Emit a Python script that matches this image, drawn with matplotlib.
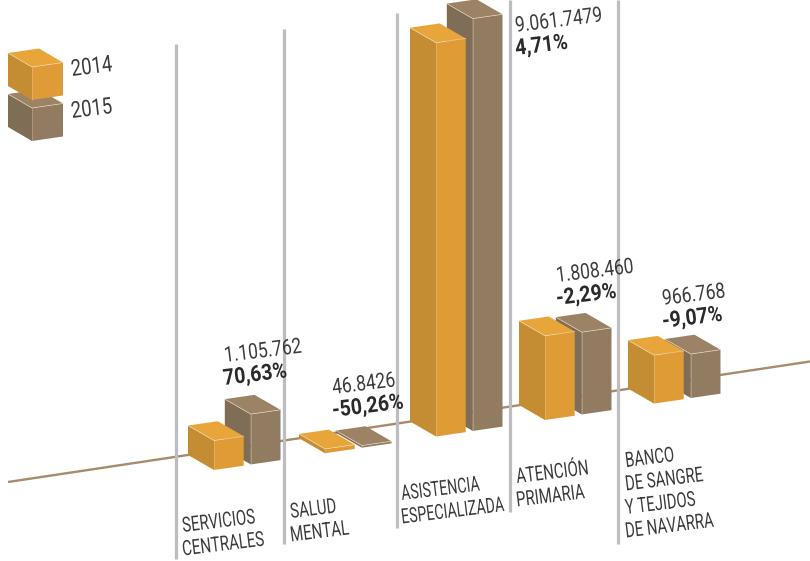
import matplotlib
matplotlib.use("Agg")
import matplotlib.pyplot as plt
import matplotlib.patheffects as pe
from matplotlib.transforms import Affine2D

categorias = [["SERVICIOS", "CENTRALES"], ["SALUD", "MENTAL"], ["ASISTENCIA", "ESPECIALIZADA"],
              ["ATENCIÓN", "PRIMARIA"], ["BANCO", "DE SANGRE", "Y TEJIDOS", "DE NAVARRA"]]
valores_2014 = [647900, 94180, 8654000, 1850900, 1063200]
valores_2015 = [1105762, 46842.6, 9061747.9, 1808460, 966768]
textos_valor = ["1.105.762", "46.8426", "9.061.7479", "1.808.460", "966.768"]
textos_pct = ["70,63%", "-50,26%", "4,71%", "-2,29%", "-9,07%"]
anios = ["2014", "2015"]

# colores: arriba, frente, lado
naranja = ["#e8a539", "#df9c36", "#c58d33"]
marron = ["#9c8366", "#917c62", "#7f6d56"]
gris_texto = "#3c3c3e"

plt.rcParams["font.family"] = ["Roboto", "DejaVu Sans"]

fig = plt.figure(figsize=(8.1, 5.61), dpi=100)
ax = fig.add_axes([0, 0, 1, 1])
ax.set_xlim(0, 810)
ax.set_ylim(561, 0)
ax.axis("off")

px_por_euro = 45.5 / 1e6
pendiente = -0.151
giro = 7


class Estrecho(pe.AbstractPathEffect):
    # encoge el texto a lo largo de su direccion, no hay fuente condensada
    def __init__(self, x, y, factor):
        super().__init__()
        self.x, self.y = ax.transData.transform((x, y))
        self.factor = factor

    def draw_path(self, renderer, gc, tpath, affine, rgbFace=None):
        t = (Affine2D().translate(-self.x, -self.y).rotate_deg(-giro).scale(self.factor, 1)
             .rotate_deg(giro).translate(self.x, self.y))
        renderer.draw_path(gc, tpath, affine + t, rgbFace)


def texto(x, y, s, size, factor, color=gris_texto, weight="normal"):
    ax.text(x, y, s, fontsize=size, color=color, fontweight=weight, rotation=giro,
            rotation_mode="anchor", ha="left", va="baseline", zorder=5,
            path_effects=[Estrecho(x, y, factor)])


def caja(x, y, alto, colores, ancho=(29.7, -4.3), fondo=(-26, -15)):
    # (x, y) es la esquina delantera de abajo
    ax_, ay = ancho
    fx, fy = fondo
    t = y - alto
    ax.fill([x, x + ax_, x + ax_, x], [y, y + ay, t + ay, t], color=colores[1], lw=0)
    ax.fill([x, x + fx, x + fx, x], [y, y + fy, t + fy, t], color=colores[2], lw=0)
    ax.fill([x, x + ax_, x + ax_ + fx, x + fx], [t, t + ay, t + ay + fy, t + fy], color=colores[0], lw=0)
    claro = "#f3dfbf"
    ax.plot([x + fx, x, x + ax_], [t + fy, t, t + ay], color=claro, lw=0.5, alpha=0.8)
    ax.plot([x, x], [t, y], color=claro, lw=0.4, alpha=0.5)


# linea base
ax.plot([8, 810], [482, 361.5], color="#a68b6d", lw=1.7, solid_capstyle="butt", zorder=1)

# reglas verticales
reglas_x = [176, 284, 396.5, 509.5, 618]
reglas_arriba = [44, 29, 13, 0, 0]
reglas_abajo = [559, 544, 528, 512, 544]
ax.vlines(reglas_x, reglas_arriba, reglas_abajo, color="#bdbdc1", lw=2.3, zorder=2)

# barras
frente_x = [214, 325, 436, 545, 654]
for i in range(len(categorias)):
    x14 = frente_x[i]
    x15 = x14 + 36.8
    y14 = 470 + pendiente * (x14 - 214)
    y15 = 470 + pendiente * (x15 - 214)
    caja(x15, y15, valores_2015[i] * px_por_euro, marron)
    caja(x14, y14, valores_2014[i] * px_por_euro, naranja)

# textos de valor
valor_pos = [(225, 362), (333, 394), (516, 32), (557, 282), (663, 305)]
pct_pos = [(224, 385), (333, 417), (516, 55), (557, 305), (663, 328)]
for i in range(5):
    texto(valor_pos[i][0], valor_pos[i][1], textos_valor[i], 15.5, 0.81)
    texto(pct_pos[i][0], pct_pos[i][1], textos_pct[i], 16, 0.88, color="#2a2a2c", weight="bold")

# categorias
cat_x = [183, 291, 402, 517, 626]
cat_y = [532, 518, 500, 483, 467]
cat_factor = [0.72, 0.72, 0.68, 0.72, 0.71]
for i, lineas in enumerate(categorias):
    for j, linea in enumerate(lineas):
        texto(cat_x[i], cat_y[i] + 23.5 * j, linea, 15, cat_factor[i])

# leyenda
caja(32, 141, 33, marron, ancho=(31, -4.5), fondo=(-24, -14))
caja(32, 100, 33, naranja, ancho=(31, -4.5), fondo=(-24, -14))
texto(72, 76, anios[0], 16.5, 0.8)
texto(72, 118, anios[1], 16.5, 0.8)

fig.savefig("out.png", dpi=100)
